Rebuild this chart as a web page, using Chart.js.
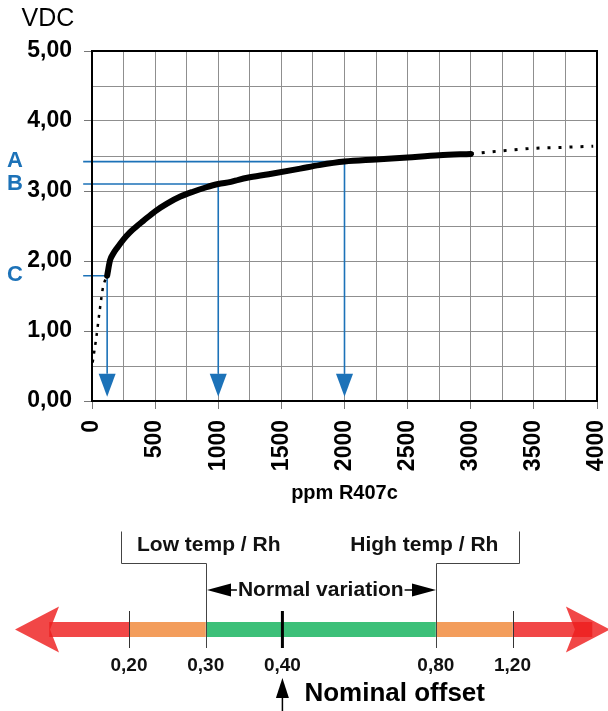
<!DOCTYPE html>
<html><head><meta charset="utf-8">
<script src="https://cdn.jsdelivr.net/npm/chart.js@4.4.1/dist/chart.umd.min.js"></script>
<style>
html,body{margin:0;padding:0;background:#fff;}
#wrap{position:relative;width:608px;height:711px;overflow:hidden;}
.box{position:absolute;left:0;width:608px;}
</style></head><body>
<div id="wrap">
  <div class="box" style="top:0;height:520px"><canvas id="c1" width="608" height="520"></canvas></div>
  <div class="box" style="top:520px;height:191px"><canvas id="c2" width="608" height="191"></canvas></div>
</div>
<script>
// ---------------- DATA ----------------
const curvePpm = [120,143,170,200,250,300,350,404,500,594,700,800,900,1000,1100,1160,1230,1400,1650,1800,2000,2250,2500,2750,3000];
const curveVdc = [1.79,2.01,2.11,2.19,2.31,2.41,2.49,2.57,2.71,2.82,2.92,2.99,3.05,3.10,3.13,3.16,3.19,3.24,3.32,3.37,3.42,3.45,3.48,3.51,3.53];
const lowPpm  = [5,35,60,88,120];
const lowVdc  = [0.55,0.92,1.28,1.63,1.79];
const highPpm = [3000,3250,3500,3750,3970];
const highVdc = [3.53,3.575,3.61,3.625,3.64];
const guideLetters = ['A','B','C'];
const guidePpm = [2000,1000,120];
const guideVdc = [3.42,3.10,1.79];
const guideStartPpm = -70;
const arrowBaseVdc = 0.39;
const arrowTipVdc = 0.06;
const xTitle = 'ppm R407c';
const yTitle = 'VDC';

const offsetLabels = ['0,20','0,30','0,40','0,80','1,20'];
const offsetSlots  = [1,2,3,5,6];
const zoneStart = [-0.04,1,2,5,6];
const zoneEnd   = [1,2,5,6,7.04];
const zoneColor = ['rgba(238,30,30,0.82)','#f39d5c','#3dc079','#f39d5c','rgba(238,30,30,0.82)'];
const arrowTipSlots = [-0.486,7.27];
const lowLabel = 'Low temp / Rh', highLabel = 'High temp / Rh';
const normalLabel = 'Normal variation', nominalLabel = 'Nominal offset';

// ---------------- STYLE ----------------
const FONT = "'Liberation Sans', Arial, Helvetica, sans-serif";
const BLUE = '#1c72b8';
const GRID = '#8f8f8f';

const toPts = (xs, ys) => xs.map((x,i)=>({x, y: ys[i]}));

const framePlugin = {
  id:'frame',
  afterDatasetsDraw(chart){
    const {ctx, scales:{x:xs, y:ys}} = chart;
    ctx.save();
    ctx.fillStyle = BLUE;
    guidePpm.forEach(p=>{
      const px = xs.getPixelForValue(p);
      const yb = ys.getPixelForValue(arrowBaseVdc);
      const yt = ys.getPixelForValue(arrowTipVdc);
      ctx.beginPath();
      ctx.moveTo(px-8.5, yb); ctx.lineTo(px+8.5, yb); ctx.lineTo(px, yt); ctx.closePath(); ctx.fill();
    });
    ctx.restore();
  },
  afterDraw(chart){
    const {ctx, chartArea:a, scales:{y:ys}} = chart;
    ctx.save();
    ctx.strokeStyle = '#000'; ctx.lineWidth = 2;
    ctx.strokeRect(a.left, a.top, a.right-a.left, a.bottom-a.top);
    ctx.fillStyle = '#000';
    ctx.font = `25px ${FONT}`;
    ctx.textAlign = 'center'; ctx.textBaseline = 'middle';
    ctx.fillText(yTitle, 48, 19);
    ctx.fillStyle = BLUE;
    ctx.font = `bold 22px ${FONT}`;
    guideLetters.forEach((L,i)=>{
      ctx.fillText(L, 15, ys.getPixelForValue(guideVdc[i]) - 0.5);
    });
    ctx.restore();
  }
};

const datasets = [
  {data: toPts(curvePpm, curveVdc), borderColor:'#000', borderWidth:6, pointRadius:0, cubicInterpolationMode:'monotone', borderCapStyle:'round', order:0},
  {data: toPts(lowPpm, lowVdc), borderColor:'#000', borderWidth:2.5, borderDash:[3,6], pointRadius:0, cubicInterpolationMode:'monotone', order:0},
  {data: toPts(highPpm, highVdc), borderColor:'#000', borderWidth:3, borderDash:[3,8], pointRadius:0, cubicInterpolationMode:'monotone', order:0},
];
guidePpm.forEach((p,i)=>{
  datasets.push({data:[{x:guideStartPpm,y:guideVdc[i]},{x:p,y:guideVdc[i]},{x:p,y:arrowBaseVdc}],
    borderColor:BLUE, borderWidth:1.6, pointRadius:0, tension:0, clip:false, order:2});
});

new Chart(document.getElementById('c1'), {
  type:'line',
  data:{datasets},
  options:{
    responsive:false, animation:false,
    layout:{padding:{top:51,right:11,bottom:15,left:0}},
    plugins:{legend:{display:false}, tooltip:{enabled:false}},
    scales:{
      x:{type:'linear', min:0, max:4000,
        ticks:{stepSize:250, autoSkip:false, minRotation:90, maxRotation:90, padding:11, color:'#000',
          font:{family:FONT, size:23, weight:'bold'},
          callback:v=> (v%500===0) ? String(v) : ''},
        grid:{color:GRID, lineWidth:1, tickLength:8,
          tickColor: c => (c.tick && c.tick.value%500===0) ? '#777' : 'rgba(0,0,0,0)'},
        border:{color:'#000', width:2},
        title:{display:true, text:xTitle, color:'#000', padding:0, font:{family:FONT, size:20, weight:'bold'}},
        afterFit(s){ s.height = 104; s.paddingLeft = 0; s.paddingRight = 0; }
      },
      y:{min:0, max:5,
        ticks:{stepSize:0.5, padding:12, color:'#000', font:{family:FONT, size:23, weight:'bold'},
          callback:v=> Math.abs(v-Math.round(v))<1e-6 ? Number(v).toFixed(2).replace('.',',') : ''},
        grid:{color:GRID, lineWidth:1, tickLength:8,
          tickColor: c => (c.tick && Math.abs(c.tick.value-Math.round(c.tick.value))<1e-6) ? '#777' : 'rgba(0,0,0,0)'},
        border:{color:'#000', width:2},
        afterFit(s){ s.width = 92; s.paddingTop = 0; s.paddingBottom = 0; }
      }
    }
  },
  plugins:[framePlugin]
});

// ---------------- BOTTOM DIAGRAM ----------------
const diagramPlugin = {
  id:'diagram',
  beforeDatasetsDraw(chart){
    const {ctx, scales:{x:xs, y:ys}} = chart;
    const X = v => xs.getPixelForValue(v);
    const by = ys.getPixelForValue(0);
    ctx.save();
    ctx.fillStyle = 'rgba(238,30,30,0.82)';
    const lt = X(arrowTipSlots[0]);
    ctx.beginPath(); ctx.moveTo(lt,by); ctx.lineTo(lt+44,by-23); ctx.lineTo(lt+35,by); ctx.lineTo(lt+44,by+23); ctx.closePath(); ctx.fill();
    const rt = X(arrowTipSlots[1]);
    ctx.beginPath(); ctx.moveTo(rt,by); ctx.lineTo(rt-44,by-23); ctx.lineTo(rt-35,by); ctx.lineTo(rt-44,by+23); ctx.closePath(); ctx.fill();
    ctx.restore();
  },
  afterDatasetsDraw(chart){
    const {ctx, scales:{x:xs, y:ys}} = chart;
    const X = v => xs.getPixelForValue(v);
    const by = ys.getPixelForValue(0);
    ctx.save();
    ctx.strokeStyle = '#333'; ctx.lineWidth = 1;
    [offsetSlots[0], offsetSlots[4]].forEach(s=>{
      const x = Math.round(X(s))+0.5;
      ctx.beginPath(); ctx.moveTo(x, by-18.5); ctx.lineTo(x, by+18.5); ctx.stroke();
    });
    ctx.strokeStyle = '#444';
    const l = Math.round(X(offsetSlots[1]))+0.5, lo = Math.round(X(0.9))+0.5;
    const r = Math.round(X(offsetSlots[3]))+0.5, ro = Math.round(X(6.08))+0.5;
    const hy = Math.round(by-66.5)+0.5, ty = by-98;
    ctx.beginPath(); ctx.moveTo(lo,ty); ctx.lineTo(lo,hy); ctx.lineTo(l,hy); ctx.lineTo(l,by+18.5); ctx.stroke();
    ctx.beginPath(); ctx.moveTo(ro,ty); ctx.lineTo(ro,hy); ctx.lineTo(r,hy); ctx.lineTo(r,by+18.5); ctx.stroke();
    ctx.strokeStyle = '#000'; ctx.lineWidth = 3;
    const nx = X(offsetSlots[2]);
    ctx.beginPath(); ctx.moveTo(nx, by-18.5); ctx.lineTo(nx, by+18.5); ctx.stroke();
    ctx.fillStyle = '#111';
    ctx.textAlign = 'center'; ctx.textBaseline = 'middle';
    ctx.font = `bold 19px ${FONT}`;
    offsetLabels.forEach((t,i)=> ctx.fillText(t, X(offsetSlots[i]), by+36));
    ctx.font = `bold 21px ${FONT}`;
    ctx.fillText(lowLabel, X(2.04), by-84.5);
    ctx.fillText(highLabel, X(4.85), by-84.5);
    const vy = by-39.5;
    const cx = X(3.5);
    const tw = ctx.measureText(normalLabel).width;
    ctx.fillText(normalLabel, cx, vy);
    ctx.fillStyle = '#000'; ctx.strokeStyle = '#000'; ctx.lineWidth = 1.5;
    const la = l+0.5, ra = r-0.5;
    ctx.beginPath(); ctx.moveTo(la, vy); ctx.lineTo(la+24, vy-6.5); ctx.lineTo(la+24, vy+6.5); ctx.closePath(); ctx.fill();
    ctx.beginPath(); ctx.moveTo(ra, vy); ctx.lineTo(ra-24, vy-6.5); ctx.lineTo(ra-24, vy+6.5); ctx.closePath(); ctx.fill();
    ctx.beginPath(); ctx.moveTo(la+24, vy); ctx.lineTo(cx - tw/2 - 1, vy); ctx.stroke();
    ctx.beginPath(); ctx.moveTo(cx + tw/2 + 1, vy); ctx.lineTo(ra-24, vy); ctx.stroke();
    ctx.beginPath(); ctx.moveTo(nx, by+48.5); ctx.lineTo(nx-6.5, by+68.5); ctx.lineTo(nx+6.5, by+68.5); ctx.closePath(); ctx.fill();
    ctx.beginPath(); ctx.moveTo(nx, by+68); ctx.lineTo(nx, chart.height); ctx.stroke();
    ctx.textAlign = 'left';
    ctx.font = `bold 26px ${FONT}`;
    ctx.fillText(nominalLabel, nx+22, by+64.5);
    ctx.restore();
  }
};

const zoneSets = zoneStart.map((s,i)=>({
  data:[{x:s,y:0},{x:zoneEnd[i],y:0}],
  borderColor: zoneColor[i], borderWidth:15, borderCapStyle:'butt', pointRadius:0, tension:0, clip:false
}));

new Chart(document.getElementById('c2'), {
  type:'line',
  data:{datasets: zoneSets},
  options:{
    responsive:false, animation:false,
    layout:{padding:{top:28,left:0,right:0,bottom:0}},
    plugins:{legend:{display:false}, tooltip:{enabled:false}},
    scales:{
      x:{type:'linear', min:-0.682, max:7.245, display:false},
      y:{min:-1, max:1, display:false}
    }
  },
  plugins:[diagramPlugin]
});
</script>
</body></html>
